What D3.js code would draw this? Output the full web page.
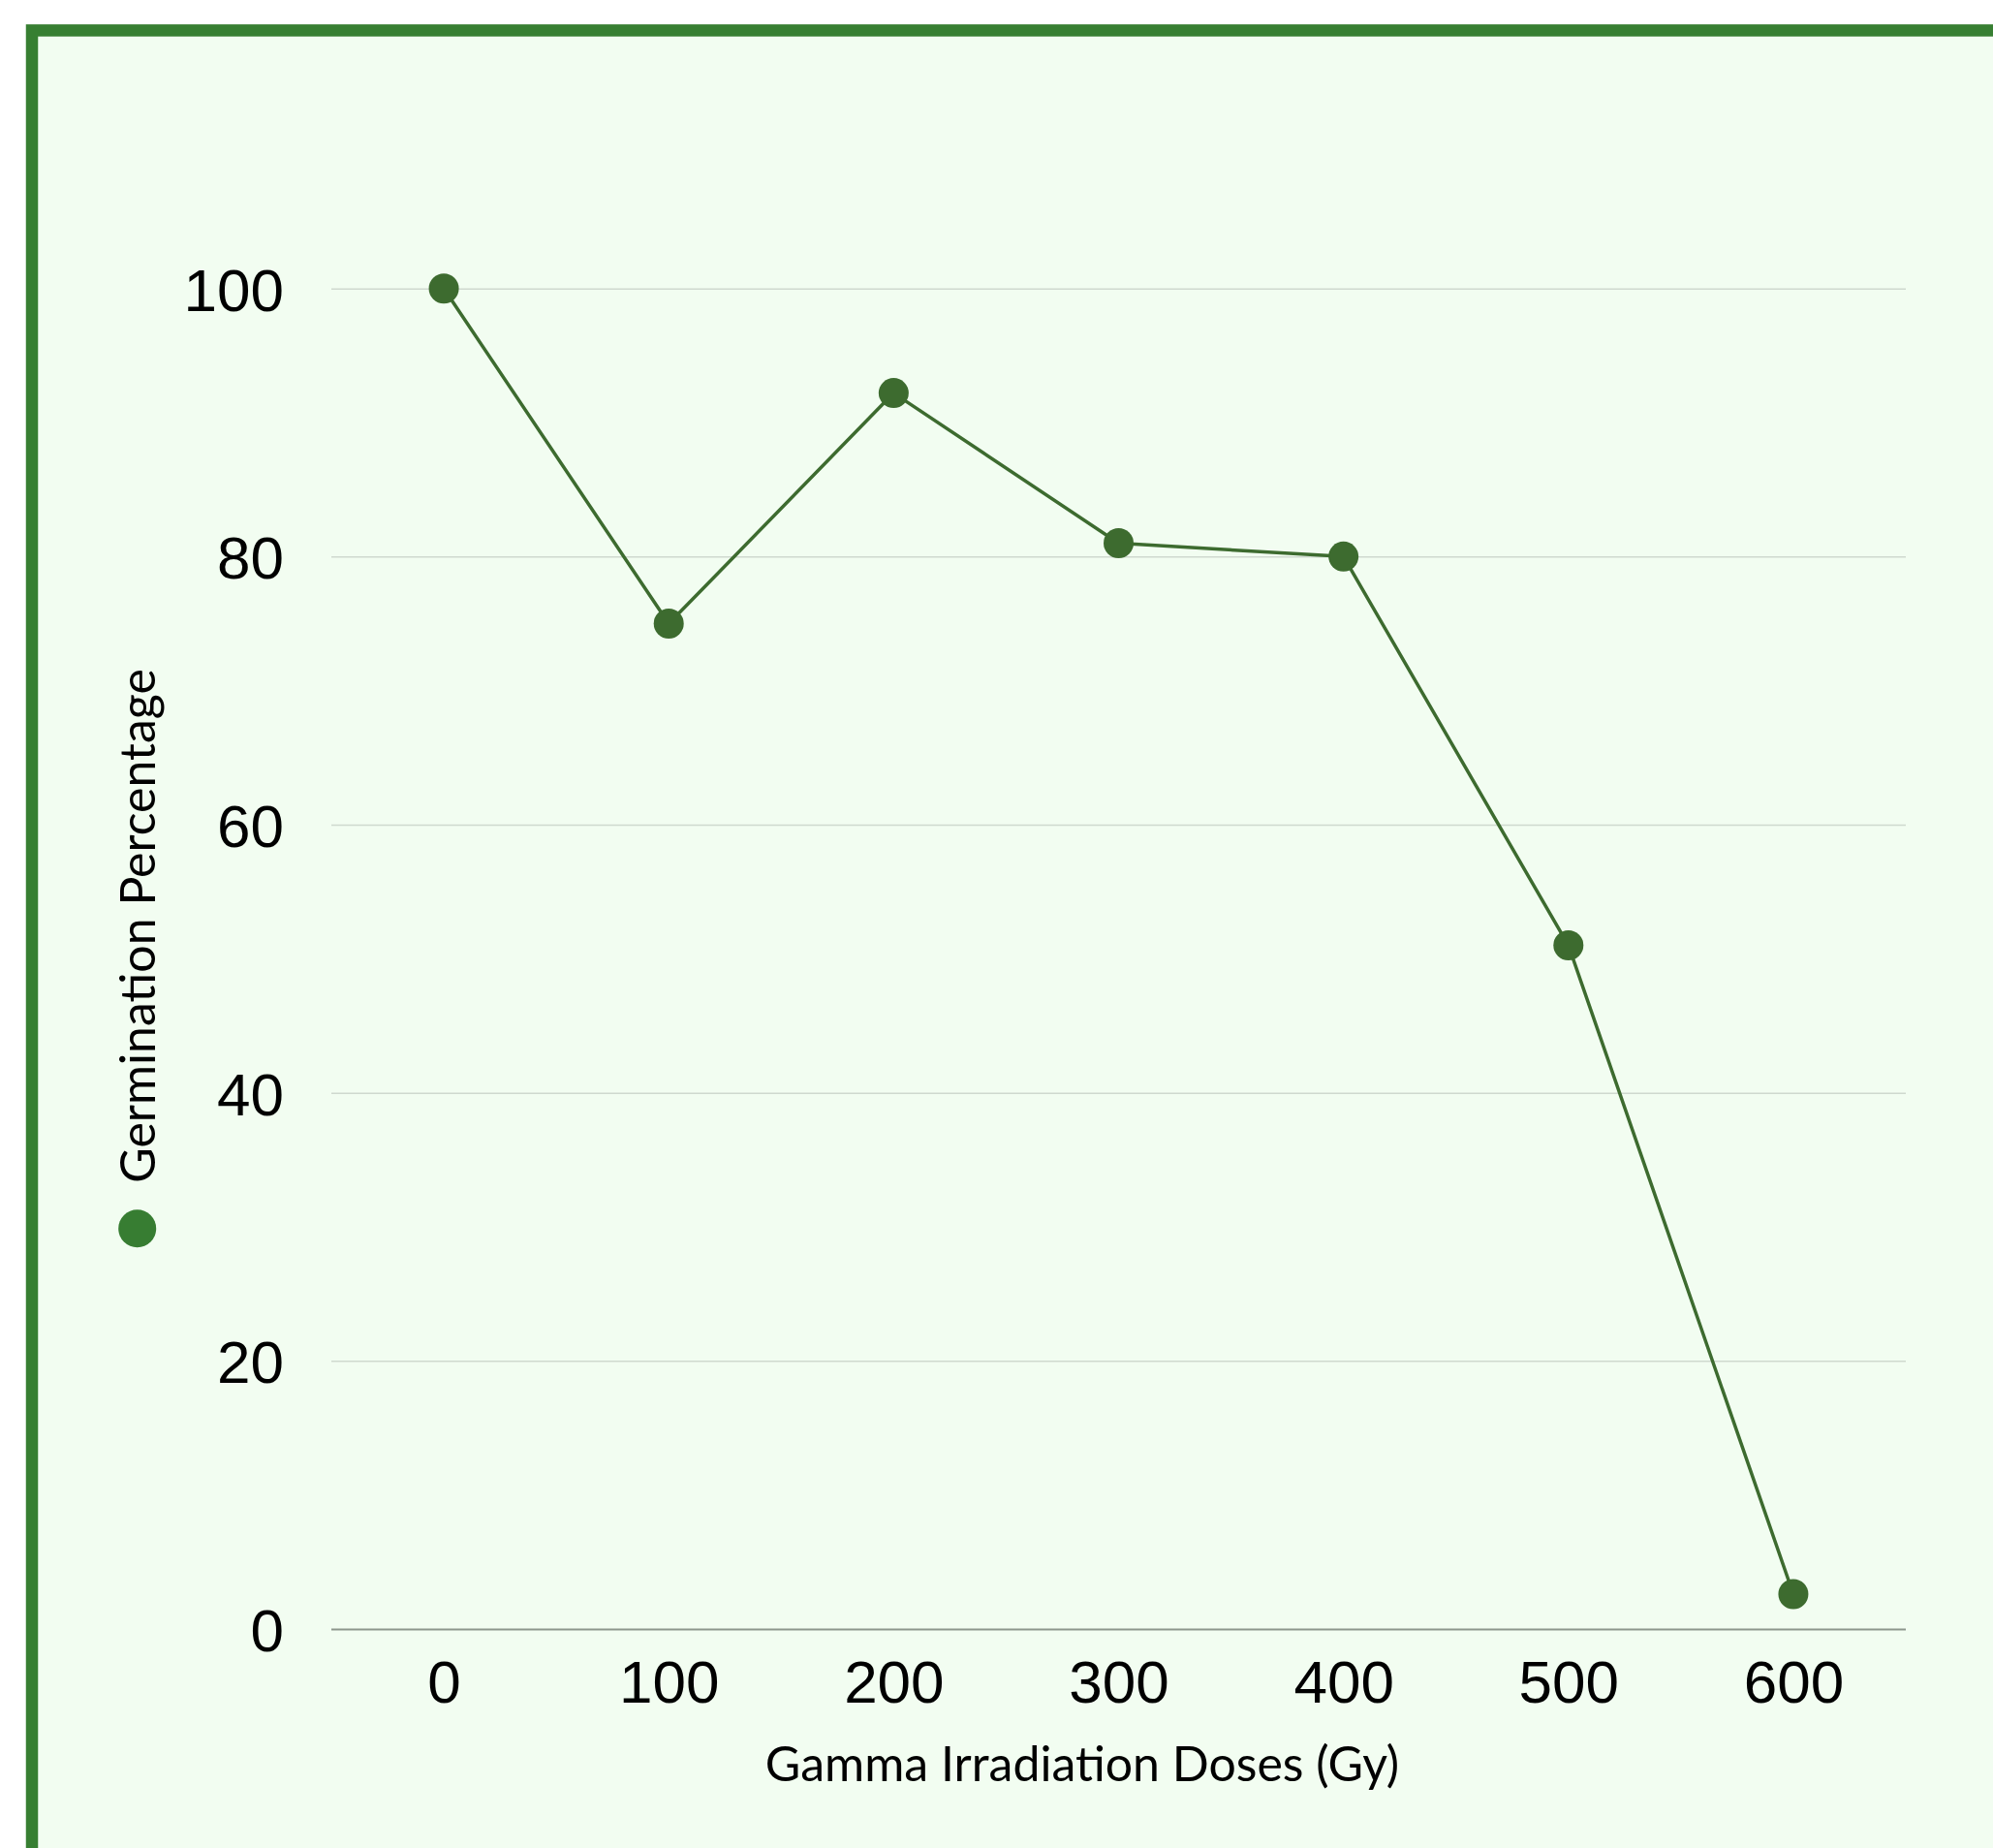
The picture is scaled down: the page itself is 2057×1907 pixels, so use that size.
<!DOCTYPE html>
<html>
<head>
<meta charset="utf-8">
<script src="https://cdn.jsdelivr.net/npm/d3@7/dist/d3.min.js"></script>
<style>
  html, body { margin: 0; padding: 0; background: #ffffff; }
  svg { display: block; }
</style>
</head>
<body>
<script>
// Germination percentage of seeds after gamma irradiation
const doses = ["0", "100", "200", "300", "400", "500", "600"];
const germination = [100, 75, 92.2, 81, 80, 51, 2.6];
const yTicks = [0, 20, 40, 60, 80, 100];
const xTitle = "Gamma Irradiation Doses (Gy)";
const yTitle = "Germination Percentage";

const W = 2057, H = 1907;
const plot = { left: 342, right: 1967, top: 297.7, bottom: 1681 };

const svg = d3.select("body").append("svg")
  .attr("width", W).attr("height", H);

// Framed panel (frame runs off the right and bottom edges)
svg.append("rect")
  .attr("x", 33).attr("y", 31.4)
  .attr("width", W + 40).attr("height", H + 40)
  .attr("fill", "#f2fdf1")
  .attr("stroke", "#377f32")
  .attr("stroke-width", 12.5);

const x = d3.scalePoint()
  .domain(doses)
  .range([plot.left, plot.right])
  .padding(0.5);

const y = d3.scaleLinear()
  .domain([0, 100])
  .range([plot.bottom, plot.top]);

// Horizontal gridlines and value labels
const yAxis = d3.axisLeft(y)
  .tickValues(yTicks)
  .tickSize(-(plot.right - plot.left))
  .tickPadding(49)
  .tickFormat(d3.format("d"));

const gy = svg.append("g")
  .attr("transform", `translate(${plot.left},0)`)
  .call(yAxis);
gy.select(".domain").remove();
gy.selectAll(".tick line")
  .attr("stroke", d => d === 0 ? "#8d978d" : "#cfd9cf")
  .attr("stroke-width", d => d === 0 ? 2 : 1.5);
gy.selectAll(".tick text")
  .attr("fill", "#000")
  .attr("font-family", "'Liberation Sans', Arial, sans-serif")
  .attr("font-size", 62)
  .attr("dy", "0.36em");

// Category labels under the baseline
const xAxis = d3.axisBottom(x).tickSize(0).tickPadding(32);
const gx = svg.append("g")
  .attr("transform", `translate(0,${plot.bottom})`)
  .call(xAxis);
gx.select(".domain").remove();
gx.selectAll(".tick text")
  .attr("fill", "#000")
  .attr("font-family", "'Liberation Sans', Arial, sans-serif")
  .attr("font-size", 62)
  .attr("dy", "0.71em");

// Series line and markers
const pts = doses.map((d, i) => ({ dose: d, value: germination[i] }));

svg.append("path")
  .datum(pts)
  .attr("fill", "none")
  .attr("stroke", "#3d6b2f")
  .attr("stroke-width", 3.5)
  .attr("stroke-linejoin", "round")
  .attr("d", d3.line().x(d => x(d.dose)).y(d => y(d.value)));

svg.append("g").selectAll("circle")
  .data(pts)
  .join("circle")
  .attr("cx", d => x(d.dose))
  .attr("cy", d => y(d.value))
  .attr("r", 15.5)
  .attr("fill", "#3d6b2f");

// Axis title
svg.append("text")
  .attr("x", 1117).attr("y", 1838)
  .attr("text-anchor", "middle")
  .attr("font-family", "Lato, 'Noto Sans', sans-serif")
  .attr("font-size", 50)
  .attr("fill", "#000")
  .text(xTitle);

// Legend: marker plus rotated series name
svg.append("circle")
  .attr("cx", 141.7).attr("cy", 1267.7)
  .attr("r", 19.5)
  .attr("fill", "#377d32");

svg.append("text")
  .attr("transform", "translate(160,955.5) rotate(-90)")
  .attr("text-anchor", "middle")
  .attr("font-family", "Lato, 'Noto Sans', sans-serif")
  .attr("font-size", 50)
  .attr("fill", "#000")
  .text(yTitle);
</script>
</body>
</html>
